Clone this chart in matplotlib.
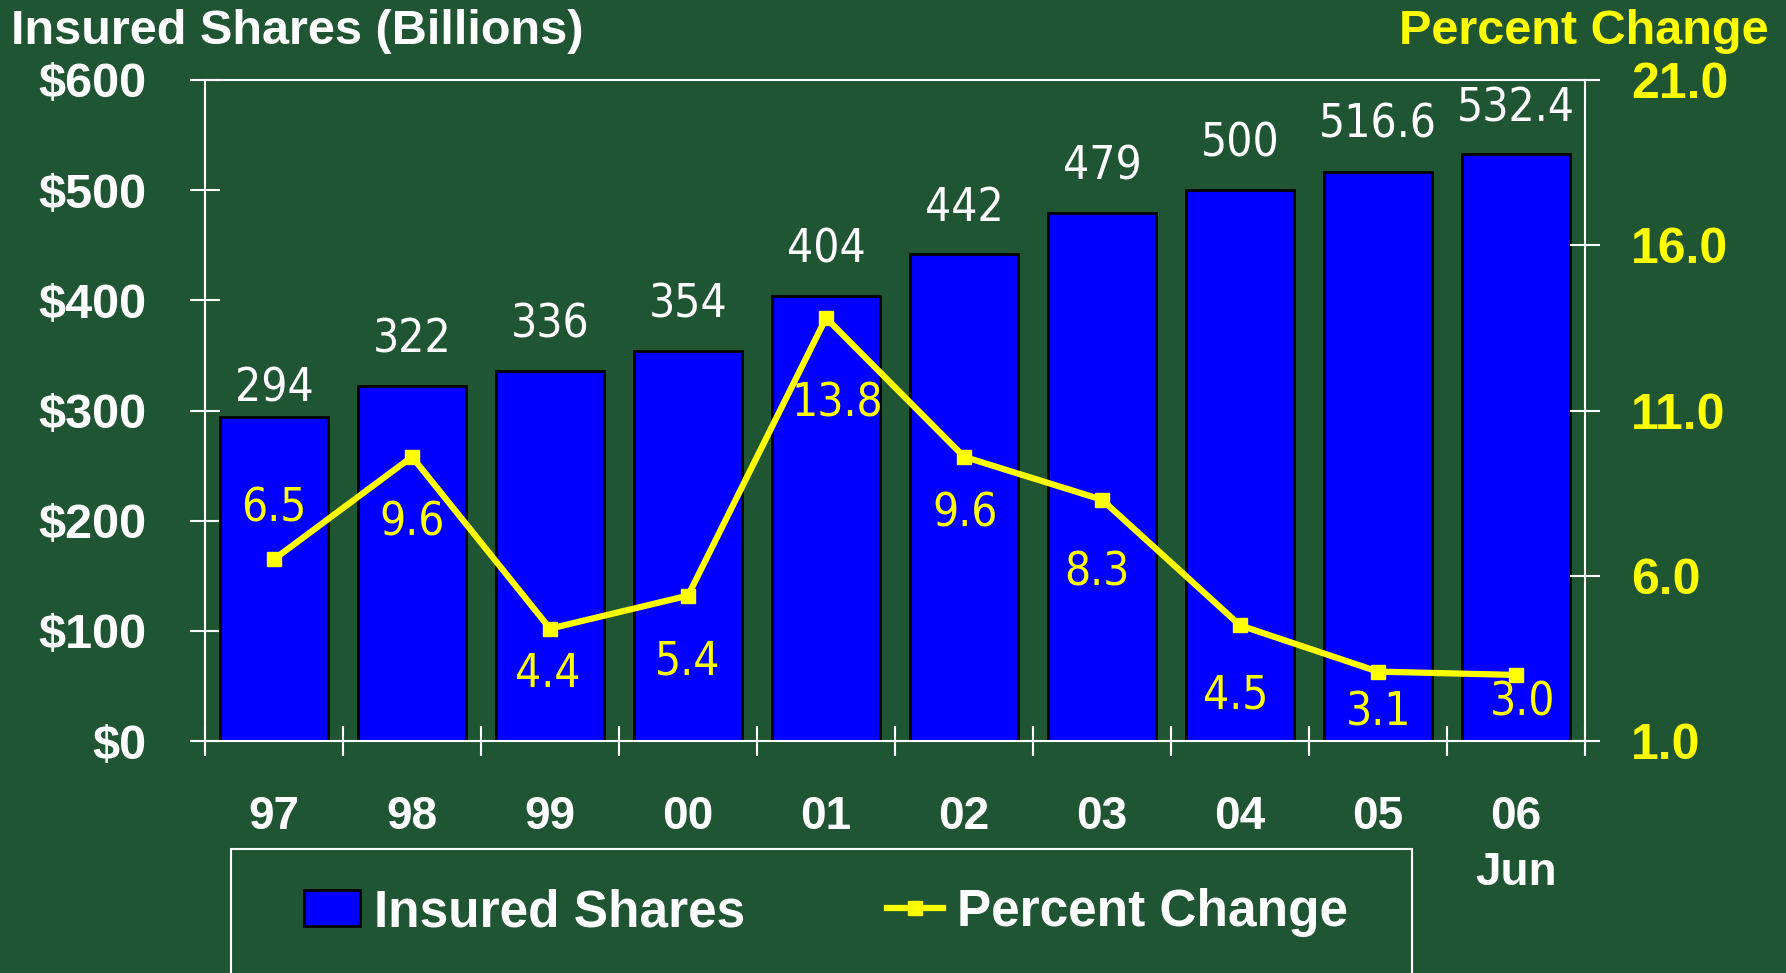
import numpy as np
import matplotlib.pyplot as plt
from matplotlib import font_manager
from matplotlib.patches import Rectangle, Patch
from matplotlib.lines import Line2D

# %% Data
years = ["97", "98", "99", "00", "01", "02", "03", "04", "05", "06\nJun"]
shares = [294, 322, 336, 354, 404, 442, 479, 500, 516.6, 532.4]
pct_change = [6.5, 9.6, 4.4, 5.4, 13.8, 9.6, 8.3, 4.5, 3.1, 3.0]

# label offsets (points) for the percent labels
pct_dx = [0, 0, -2, 0, 8, 1, -4, -3, 0, 5]
pct_dy = [36, -48, -33, -48, -62, -41, -53, -51, -30, -20]
bar_dy = [20, 33, 33, 33, 33, 33, 33, 33, 34, 33]

# %% Style
# look for a condensed face for the value labels
cond = None
for f in font_manager.fontManager.ttflist:
    fn = f.fname.lower()
    if ("condensed" in fn or "narrow" in fn) and "bold" not in fn and "oblique" not in fn \
            and "italic" not in fn and "mono" not in fn and "serif" not in fn.replace("sans", ""):
        cond = f
        break
bold = "Liberation Sans"
if cond is not None:
    val_font = dict(family=cond.name, stretch=cond.stretch, size=33)
else:
    val_font = dict(family="DejaVu Sans", size=27)

bg = "#1f5533"
blue = "#0000ff"
yellow = "#ffff00"

fig = plt.figure(figsize=(17.86, 9.73), dpi=100, facecolor=bg)
ax = fig.add_axes([0.1148, 0.2384, 0.7727, 0.6794])
ax.set_facecolor("none")
ax2 = ax.twinx()

x = np.arange(len(years))
ax.bar(x, shares, width=0.78, color=blue, edgecolor="black", linewidth=2, zorder=2)
for i, v in enumerate(shares):
    ax.annotate(f"{v:g}", (x[i], v), xytext=(0, bar_dy[i]), textcoords="offset points",
                ha="center", va="center", color="white", fontproperties=font_manager.FontProperties(**val_font))

ax2.plot(x, pct_change, color=yellow, lw=4.5, marker="s", ms=9.5, zorder=3)
for i, v in enumerate(pct_change):
    ax2.annotate(f"{v:.1f}", (x[i], v), xytext=(pct_dx[i], pct_dy[i]), textcoords="offset points",
                 ha="center", va="center", color=yellow, fontproperties=font_manager.FontProperties(**val_font))

ax.set_xlim(-0.5, 9.5)
ax.set_ylim(0, 600)
ax2.set_ylim(1, 21)

ax.set_yticks(np.arange(0, 601, 100), labels=[f"${v}" for v in range(0, 601, 100)])
ax2.set_yticks([1, 6, 11, 16, 21], labels=["1.0", "6.0", "11.0", "16.0", "21.0"])
ax.set_xticks(np.arange(-0.5, 10, 1), labels=[])
ax.set_xticks(x, labels=years, minor=True)

ax.tick_params(axis="y", direction="inout", length=22, width=1.5, color="white",
               labelcolor="white", labelsize=35, pad=31)
ax2.tick_params(axis="y", direction="inout", length=22, width=1.5, color="white",
                labelcolor=yellow, labelsize=36, pad=22)
ax.tick_params(axis="x", which="major", direction="inout", length=22, width=1.5, color="white")
ax.tick_params(axis="x", which="minor", length=0, pad=39, labelcolor="white", labelsize=33)
for lab in ax.get_xticklabels(minor=True) + ax.get_yticklabels() + ax2.get_yticklabels():
    lab.set_family(bold)
    lab.set_fontweight("bold")
for lab in ax.get_xticklabels(minor=True):
    lab.set_linespacing(1.35)

for s in ["left", "top", "bottom"]:
    ax.spines[s].set_color("white")
    ax.spines[s].set_linewidth(1.5)
ax.spines["right"].set_visible(False)
for s in ["left", "top", "bottom"]:
    ax2.spines[s].set_visible(False)
ax2.spines["right"].set_color("white")
ax2.spines["right"].set_linewidth(1.5)

fig.text(0.0063, 0.968, "Insured Shares (Billions)", color="white", fontsize=35,
         fontweight="bold", family=bold, ha="left", va="center")
fig.text(0.99, 0.968, "Percent Change", color=yellow, fontsize=35,
         fontweight="bold", family=bold, ha="right", va="center")

# legend
handles = [Patch(facecolor=blue, edgecolor="black", linewidth=2),
           Line2D([], [], color=yellow, lw=4.5, marker="s", ms=9.5)]
leg = fig.legend(handles, ["Insured Shares", "Percent Change"], loc="center",
                 bbox_to_anchor=(0.4625, 0.0617), ncol=2, frameon=False,
                 prop={"family": bold, "weight": "bold", "size": 37},
                 handlelength=1.1, handleheight=0.7, handletextpad=0.27, columnspacing=2.75)
for t in leg.get_texts():
    t.set_color("white")
fig.patches.append(Rectangle((0.1293, -0.05), 0.6613, 0.1773, transform=fig.transFigure,
                             facecolor="none", edgecolor="white", linewidth=1.5))

fig.savefig("out.png", dpi=100, facecolor=bg)
